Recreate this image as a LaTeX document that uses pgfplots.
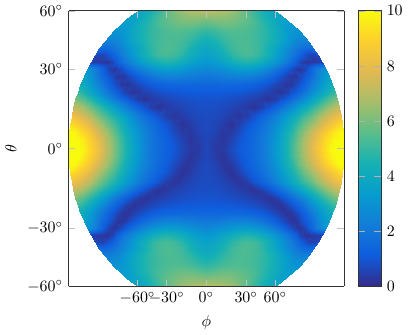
\documentclass[border=0pt]{standalone}
\usepackage{pgfplots}
\usepackage{pgfplotstable}
\pgfplotsset{compat=1.18}
\pgfplotstableread{
p t z
0 0 0.65
3 0 0.35
6 0 0.35
9 0 0.7
12 0 1.05
15 0 1.35
18 0 1.7
21 0 2.1
24 0 2.8
27 0 3.6
30 0 4.4
33 0 5.3
36 0 6.3
39 0 7.2
42 0 8.0
45 0 8.7
48 0 9.3
51 0 9.8
54 0 10.3
57 0 10.7
60 0 11
0 3 0.65
3 3 0.42
6 3 0.25
9 3 0.55
12 3 0.95
15 3 1.3
18 3 1.65
21 3 2.1
24 3 2.75
27 3 3.55
30 3 4.35
33 3 5.2
36 3 6.2
39 3 7.0
42 3 7.8
45 3 8.5
48 3 9.1
51 3 9.6
54 3 10.1
57 3 10.5
60 3 10.8
0 6 0.7
3 6 0.55
6 6 0.3
9 6 0.35
12 6 0.75
15 6 1.2
18 6 1.55
21 6 2.0
24 6 2.6
27 6 3.3
30 6 4.1
33 6 4.9
36 6 5.8
39 6 6.6
42 6 7.3
45 6 8.0
48 6 8.6
51 6 9.1
54 6 9.5
57 6 9.9
60 6 10.2
0 9 0.72
3 9 0.62
6 9 0.42
9 9 0.2
12 9 0.5
15 9 0.95
18 9 1.35
21 9 1.8
24 9 2.3
27 9 2.95
30 9 3.65
33 9 4.4
36 9 5.2
39 9 5.9
42 9 6.6
45 9 7.2
48 9 7.8
51 9 8.3
54 9 8.7
57 9 9.0
60 9 9.3
0 12 0.75
3 12 0.7
6 12 0.6
9 12 0.42
12 12 0.25
15 12 0.45
18 12 0.9
21 12 1.35
24 12 1.85
27 12 2.45
30 12 3.1
33 12 3.8
36 12 4.5
39 12 5.1
42 12 5.7
45 12 6.3
48 12 6.9
51 12 7.4
54 12 7.8
57 12 8.1
60 12 8.3
0 15 0.8
3 15 0.78
6 15 0.72
9 15 0.62
12 15 0.5
15 15 0.38
18 15 0.2
21 15 0.45
24 15 0.9
27 15 1.4
30 15 1.95
33 15 2.6
36 15 3.3
39 15 3.95
42 15 4.5
45 15 5.1
48 15 5.7
51 15 6.2
54 15 6.7
57 15 7.0
60 15 7.2
0 18 0.9
3 18 0.9
6 18 0.85
9 18 0.8
12 18 0.72
15 18 0.62
18 18 0.5
21 18 0.38
24 18 0.2
27 18 0.4
30 18 0.85
33 18 1.35
36 18 1.9
39 18 2.5
42 18 3.15
45 18 3.8
48 18 4.4
51 18 4.9
54 18 5.4
57 18 5.8
60 18 6.1
0 21 1.1
3 21 1.1
6 21 1.1
9 21 1.05
12 21 1.0
15 21 0.95
18 21 0.85
21 21 0.72
24 21 0.55
27 21 0.35
30 21 0.2
33 21 0.5
36 21 1.0
39 21 1.5
42 21 2.05
45 21 2.7
48 21 3.3
51 21 3.8
54 21 4.3
57 21 4.7
60 21 5.0
0 24 1.45
3 24 1.45
6 24 1.5
9 24 1.5
12 24 1.5
15 24 1.45
18 24 1.35
21 24 1.2
24 24 1.0
27 24 0.75
30 24 0.5
33 24 0.22
36 24 0.35
39 24 0.8
42 24 1.3
45 24 1.8
48 24 2.4
51 24 3.0
54 24 3.5
57 24 3.9
60 24 4.2
0 27 2.05
3 27 2.1
6 27 2.2
9 27 2.3
12 27 2.4
15 27 2.4
18 27 2.35
21 27 2.15
24 27 1.85
27 27 1.5
30 27 1.1
33 27 0.7
36 27 0.3
39 27 0.3
42 27 0.75
45 27 1.25
48 27 1.7
51 27 2.3
54 27 2.9
57 27 3.3
60 27 3.6
0 30 2.6
3 30 2.7
6 30 2.85
9 30 3.1
12 30 3.3
15 30 3.4
18 30 3.4
21 30 3.2
24 30 2.9
27 30 2.5
30 30 2.05
33 30 1.6
36 30 1.1
39 30 0.6
42 30 0.22
45 30 0.5
48 30 1.1
51 30 1.7
54 30 2.3
57 30 2.75
60 30 3.1
0 33 3.2
3 33 3.35
6 33 3.6
9 33 3.95
12 33 4.3
15 33 4.55
18 33 4.6
21 33 4.45
24 33 4.15
27 33 3.75
30 33 3.3
33 33 2.8
36 33 2.3
39 33 1.8
42 33 1.2
45 33 0.5
48 33 0.22
51 33 0.3
54 33 0.35
57 33 0.4
60 33 0.5
0 36 3.6
3 36 3.8
6 36 4.1
9 36 4.5
12 36 4.9
15 36 5.15
18 36 5.25
21 36 5.2
24 36 4.95
27 36 4.55
30 36 4.1
33 36 3.6
36 36 3.05
39 36 2.55
42 36 2.05
45 36 1.6
48 36 1.15
51 36 0.75
54 36 0.5
57 36 0.55
60 36 0.7
0 39 3.85
3 39 4.05
6 39 4.35
9 39 4.75
12 39 5.1
15 39 5.3
18 39 5.4
21 39 5.3
24 39 5.1
27 39 4.8
30 39 4.4
33 39 3.95
36 39 3.5
39 39 3.05
42 39 2.65
45 39 2.3
48 39 2.0
51 39 1.75
54 39 1.6
57 39 1.6
60 39 1.7
0 42 4.2
3 42 4.4
6 42 4.65
9 42 4.95
12 42 5.15
15 42 5.3
18 42 5.35
21 42 5.3
24 42 5.2
27 42 5.0
30 42 4.75
33 42 4.45
36 42 4.1
39 42 3.7
42 42 3.35
45 42 3.0
48 42 2.65
51 42 2.45
54 42 2.3
57 42 2.3
60 42 2.3
0 45 4.55
3 45 4.7
6 45 4.9
9 45 5.1
12 45 5.25
15 45 5.35
18 45 5.35
21 45 5.3
24 45 5.2
27 45 5.05
30 45 4.85
33 45 4.65
36 45 4.35
39 45 4.05
42 45 3.75
45 45 3.45
48 45 3.15
51 45 2.95
54 45 2.85
57 45 2.8
60 45 2.8
0 48 5.0
3 48 5.1
6 48 5.25
9 48 5.4
12 48 5.45
15 48 5.5
18 48 5.45
21 48 5.4
24 48 5.3
27 48 5.15
30 48 5.0
33 48 4.8
36 48 4.55
39 48 4.3
42 48 4.05
45 48 3.75
48 48 3.45
51 48 3.25
54 48 3.15
57 48 3.1
60 48 3.1
0 51 5.5
3 51 5.6
6 51 5.7
9 51 5.8
12 51 5.8
15 51 5.8
18 51 5.7
21 51 5.6
24 51 5.5
27 51 5.35
30 51 5.2
33 51 4.95
36 51 4.7
39 51 4.5
42 51 4.25
45 51 4.0
48 51 3.7
51 51 3.5
54 51 3.4
57 51 3.35
60 51 3.35
0 54 6.0
3 54 6.05
6 54 6.1
9 54 6.15
12 54 6.15
15 54 6.1
18 54 6.0
21 54 5.85
24 54 5.7
27 54 5.55
30 54 5.35
33 54 5.1
36 54 4.85
39 54 4.6
42 54 4.35
45 54 4.1
48 54 3.85
51 54 3.7
54 54 3.6
57 54 3.55
60 54 3.5
0 57 6.5
3 57 6.5
6 57 6.5
9 57 6.45
12 57 6.4
15 57 6.3
18 57 6.2
21 57 6.05
24 57 5.85
27 57 5.65
30 57 5.4
33 57 5.15
36 57 4.9
39 57 4.65
42 57 4.45
45 57 4.25
48 57 4.05
51 57 3.9
54 57 3.8
57 57 3.7
60 57 3.65
0 60 7.0
3 60 7.0
6 60 6.95
9 60 6.9
12 60 6.8
15 60 6.7
18 60 6.55
21 60 6.35
24 60 6.1
27 60 5.85
30 60 5.6
33 60 5.35
36 60 5.1
39 60 4.85
42 60 4.65
45 60 4.4
48 60 4.25
51 60 4.05
54 60 3.95
57 60 3.85
60 60 3.8
}\tbl
\begin{document}
\begin{tikzpicture}
\begin{axis}[
  scale only axis, width=173pt, height=173pt,
  view={0}{90},
  xmin=-0.866, xmax=0.866, ymin=-0.866, ymax=0.866, zmin=-1, zmax=1,
  xtick={-0.433,-0.25,0,0.25,0.433},
  xticklabels={$-60^\circ$,$-30^\circ$,$0^\circ$,$30^\circ$,$60^\circ$},
  ytick={-0.866,-0.5,0,0.5,0.866},
  yticklabels={$-60^\circ$,$-30^\circ$,$0^\circ$,$30^\circ$,$60^\circ$},
  xlabel={$\phi$}, ylabel={$\theta$},
  tick style={black!25},
  axis line style={black!80},
  colormap={parula}{rgb255=(53,42,135) rgb255=(15,92,221) rgb255=(18,125,216) rgb255=(7,156,207) rgb255=(21,177,180) rgb255=(89,189,140) rgb255=(165,190,107) rgb255=(225,185,82) rgb255=(252,206,46) rgb255=(249,251,14)},
  point meta min=0, point meta max=10,
  colorbar,
  colorbar shift/.style={xshift=8.8pt},
  colorbar style={width=14.2pt, ytick={0,2,4,6,8,10}, ytick pos=both, yticklabel pos=right, tick style={black!30}, axis line style={black!80}},
]
\addplot3[surf, shader=interp, mesh/rows=21, mesh/cols=21, point meta=\thisrow{z}]
  table[x expr={cos(\thisrow{t})*sin(\thisrow{p})}, y expr={sin(\thisrow{t})}, z expr=0] {\tbl};
\addplot3[surf, shader=interp, mesh/rows=21, mesh/cols=21, point meta=\thisrow{z}]
  table[x expr={-cos(\thisrow{t})*sin(\thisrow{p})}, y expr={sin(\thisrow{t})}, z expr=0] {\tbl};
\addplot3[surf, shader=interp, mesh/rows=21, mesh/cols=21, point meta=\thisrow{z}]
  table[x expr={cos(\thisrow{t})*sin(\thisrow{p})}, y expr={-sin(\thisrow{t})}, z expr=0] {\tbl};
\addplot3[surf, shader=interp, mesh/rows=21, mesh/cols=21, point meta=\thisrow{z}]
  table[x expr={-cos(\thisrow{t})*sin(\thisrow{p})}, y expr={-sin(\thisrow{t})}, z expr=0] {\tbl};
\end{axis}
\end{tikzpicture}
\end{document}
